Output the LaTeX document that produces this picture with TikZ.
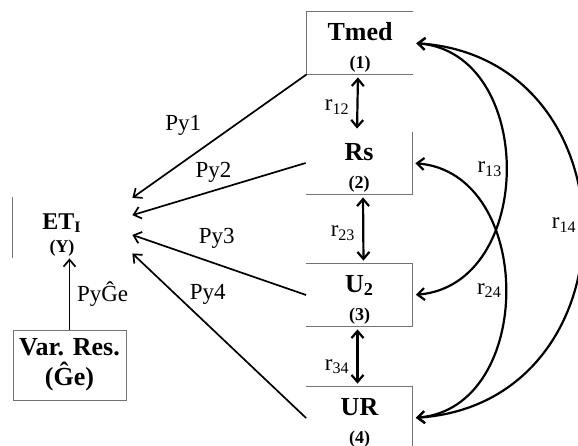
\documentclass[tikz,border=0pt]{standalone}
\usepackage{fontspec}
\setmainfont{Liberation Serif}
\usetikzlibrary{arrows.meta,calc}
\tikzstyle{vb}=[minimum width=53pt,minimum height=31pt,inner sep=0pt,align=center,font=\bfseries]
\tikzstyle{rim}=[draw=black!55,line width=0.5pt]
\tikzstyle{pa}=[->,line width=0.85pt]
\tikzstyle{co}=[<->,line width=1.1pt,shorten >=1.5pt,shorten <=1.5pt]
\tikzstyle{lab}=[font=\fontsize{11.5}{12}\selectfont]
\newcommand{\vname}[2]{\fontsize{13}{13}\selectfont\rule{0pt}{13pt}#1\\[2pt]\fontsize{9}{11}\selectfont #2}

\begin{document}
\begin{tikzpicture}[
      x=0.5pt,y=-0.5pt,
      >={Straight Barb[length=3.5pt,width=6pt]}
    ]
     \useasboundingbox (0,0) rectangle (578,445);

     \node [vb] (tmed) at (360,43) {\vname{Tmed}{(1)}};
     \node [vb] (rs) at (359,163) {\vname{Rs}{(2)}};
     \node [vb] (u2) at (359.5,295) {\vname{U\textsubscript{2}}{(3)}};
     \node [vb] (ur) at (359.5,418) {\vname{UR}{(4)}};
     \node [vb,minimum width=49pt,minimum height=30.5pt] (et) at (62,227.5)
        {\fontsize{12}{12}\selectfont\rule{0pt}{15pt}ET\textsubscript{I}\\[-0.5pt]\fontsize{9}{10}\selectfont (Y)};
     \node [vb,rim,minimum width=56.5pt,minimum height=35pt,font=\bfseries\fontsize{13}{15}\selectfont] (var) at (69.5,365)
        {Var. Res.\\(Ĝe)};

      \draw[rim] (tmed.north east) -- (tmed.north west) -- (tmed.south west) -- (tmed.south east);
      \draw[rim] (rs.north east) -- (rs.south east) -- (rs.south west);
      \draw[rim] (u2.north west) -- (u2.north east) -- (u2.south east) -- (u2.south west);
      \draw[rim] (ur.north west) -- (ur.north east) -- (ur.south east);
      \draw[rim] (et.north west) -- (et.south west);

      \draw[pa] (tmed.south west) -- node[lab,pos=.61,xshift=-8.5pt,yshift=12.3pt] {Py1} ($(et.north east)!.02!(et.south east)+(21,0)$);
      \draw[pa] (rs.west) -- node[lab,pos=.5,xshift=-2.75pt,yshift=8.5pt] {Py2} ($(et.north east)!.3!(et.south east)+(21,0)$);
      \draw[pa] (u2.west) -- node[lab,pos=.56,xshift=4pt,yshift=11.5pt] {Py3} ($(et.north east)!.62!(et.south east)+(21,0)$);
      \draw[pa] (ur.west) -- node[lab,pos=.65,xshift=7.25pt,yshift=8.35pt] {Py4} ($(et.north east)!.92!(et.south east)+(21,0)$);
      \draw[pa] (var.north) -- node[lab,right] {PyĜe} (var.north |- et.south);

      \draw[co] ([xshift=-1pt]tmed.south) -- node[lab,left,pos=.57] {r\textsubscript{12}} ([xshift=-1pt]rs.north);
      \draw[co] ([xshift=2pt]rs.south) -- node[lab,left,pos=.56] {r\textsubscript{23}} ([xshift=2pt]u2.north);
      \draw[co] ([xshift=-1pt]u2.south) -- node[lab,left,pos=.67] {r\textsubscript{34}} ([xshift=-1pt]ur.north);

      \draw[co] (tmed.east) .. controls +(123,10) and +(123,-10) .. node[lab,left,inner sep=1pt] {r\textsubscript{13}} (u2.east);
      \draw[co] (rs.east) .. controls +(123,10) and +(123,-10) .. node[lab,left,inner sep=1pt] {r\textsubscript{24}} (ur.east);
      \draw[co] (tmed.east) .. controls +(225,15) and +(225,-15) .. node[lab,left,inner sep=2pt,pos=.49] {r\textsubscript{14}} (ur.east);
    \end{tikzpicture}
\end{document}
